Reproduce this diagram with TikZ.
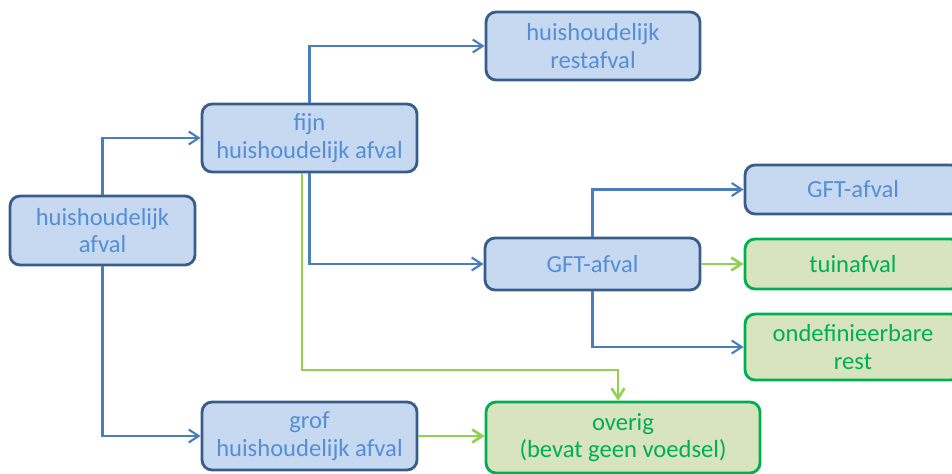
\documentclass[tikz,border=0pt]{standalone}
\usepackage{fontspec}
\setmainfont{Carlito}
\usetikzlibrary{arrows.meta}
\definecolor{boxblue}{HTML}{C6D9F1}
\definecolor{edgeblue}{HTML}{385D8A}
\definecolor{textblue}{HTML}{558ED5}
\definecolor{lineblue}{HTML}{4A7EBB}
\definecolor{boxgreen}{HTML}{D7E4BD}
\definecolor{edgegreen}{HTML}{00B050}
\definecolor{linegreen}{HTML}{92D050}
\begin{document}
\begin{tikzpicture}[x=0.02cm,y=-0.02cm,
  bluebox/.style={draw=edgeblue,fill=boxblue,text=textblue,line width=1.6pt,
    rounded corners=0.2cm,align=center,inner sep=0pt,
    font=\fontsize{14}{15.6}\selectfont},
  greenbox/.style={bluebox,draw=edgegreen,fill=boxgreen,text=edgegreen},
  bluearrow/.style={draw=lineblue,line width=1.2pt,-{Straight Barb[length=2mm,width=2.6mm]}},
  greenarrow/.style={draw=linegreen,line width=1.5pt,-{Straight Barb[length=2mm,width=2.6mm]}}]
\useasboundingbox (0,0) rectangle (952,473);
\clip (0,0) rectangle (952,473);
% boxes
\node[bluebox,minimum width=3.7cm,minimum height=1.38cm] (hafval) at (102.5,230.5) {huishoudelijk\\afval};
\node[bluebox,minimum width=4.3cm,minimum height=1.36cm] (fijn) at (309.5,138) {fijn\\huishoudelijk afval};
\node[bluebox,minimum width=4.3cm,minimum height=1.36cm] (grof) at (309.5,436) {grof\\huishoudelijk afval};
\node[bluebox,minimum width=4.28cm,minimum height=1.36cm] (rest) at (593,46) {huishoudelijk\\restafval};
\node[bluebox,minimum width=4.3cm,minimum height=1.04cm] (gftm) at (592.5,264) {GFT-afval};
\node[bluebox,minimum width=4.32cm,minimum height=0.98cm] (gftr) at (853,189.5) {GFT-afval};
\node[greenbox,minimum width=4.32cm,minimum height=1.0cm] (tuin) at (853,264) {tuinafval};
\node[greenbox,minimum width=4.32cm,minimum height=1.32cm] (ondef) at (853,347) {ondefinieerbare\\rest};
\node[greenbox,minimum width=5.48cm,minimum height=1.42cm] (overig) at (623,437.5) {overig\\(bevat geen voedsel)};
% connectors
\draw[bluearrow] (hafval.north) |- (fijn.west);
\draw[bluearrow] (hafval.south) |- (grof.west);
\draw[bluearrow] (fijn.north) |- (rest.west);
\draw[bluearrow] (fijn.south) |- (gftm.west);
\draw[bluearrow] (gftm.north) |- (gftr.west);
\draw[bluearrow] (gftm.south) |- (ondef.west);
\draw[greenarrow] (gftm.east) -- (tuin.west);
\draw[greenarrow] (grof.east) -- (grof.east -| overig.west);
\coordinate (bend) at (618,370);
\draw[greenarrow] ([xshift=-0.15cm]fijn.south) |- (bend) -- (bend |- overig.north);
\end{tikzpicture}
\end{document}
